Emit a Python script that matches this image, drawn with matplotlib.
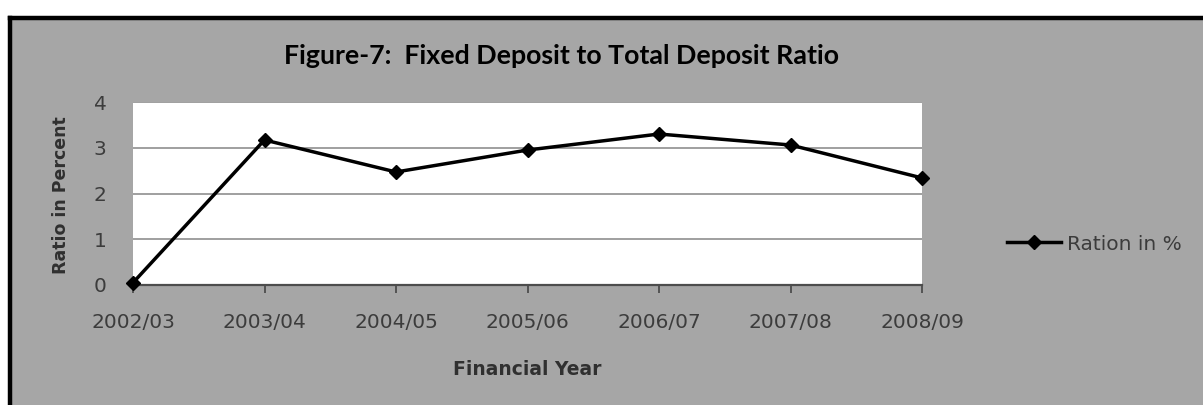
import matplotlib.pyplot as plt
from matplotlib.patches import Rectangle
from matplotlib.lines import Line2D

years = ["2002/03", "2003/04", "2004/05", "2005/06", "2006/07", "2007/08", "2008/09"]
ratio = [0.05, 3.17, 2.47, 2.95, 3.30, 3.06, 2.34]

plt.rcParams['font.family'] = ['DejaVu Sans']

W, H = 1203, 405
fig = plt.figure(figsize=(W / 100, H / 100), dpi=100, facecolor='white')

# grey chart background with a black frame on the top and left edges
fig.patches.append(Rectangle((10 / W, 0), 1, 1 - 18 / H, transform=fig.transFigure,
                             facecolor='#a6a6a6', edgecolor='none', zorder=-5))
fig.lines.append(Line2D([10 / W, 1], [1 - 18 / H, 1 - 18 / H], transform=fig.transFigure,
                        color='black', lw=3.2, zorder=-4))
fig.lines.append(Line2D([10 / W, 10 / W], [0, 1 - 18 / H], transform=fig.transFigure,
                        color='black', lw=3.2, zorder=-4))

ax = fig.add_axes([133 / W, 1 - 285 / H, (922 - 133) / W, (285 - 102) / H])
ax.set_facecolor('white')

x = list(range(len(years)))
ax.plot(x, ratio, color='black', lw=2.5, marker='D', markersize=7,
        label='Ration in %', clip_on=False, zorder=3)

ax.set_xlim(0, len(years) - 1)
ax.set_ylim(0, 4)
ax.set_yticks([0, 1, 2, 3, 4])
ax.set_xticks(x)
ax.set_xticklabels(years)
ax.yaxis.grid(True, color='#858585', lw=1.1)
ax.set_axisbelow(True)

for side in ['top', 'right', 'left']:
    ax.spines[side].set_visible(False)
ax.spines['bottom'].set_color('#4d4d4d')
ax.spines['bottom'].set_linewidth(1.6)

ax.tick_params(axis='x', direction='out', length=6, width=1.3, color='#4d4d4d',
               labelsize=14.5, labelcolor='#3c3c3c', pad=14)
ax.tick_params(axis='y', length=0, labelsize=14.5, labelcolor='#3c3c3c', pad=19)

ax.set_xlabel('Financial Year', fontsize=13.5, fontweight='bold', color='#303030')
ax.xaxis.label.set_va('center')
ax.xaxis.set_label_coords(0.5, -0.464)
ax.set_ylabel('Ratio in Percent', fontsize=12.5, fontweight='bold', color='#303030')
ax.yaxis.label.set_va('center')
ax.yaxis.set_label_coords(-0.091, 0.49)

fig.text(561 / W, 1 - 56 / H, 'Figure-7:  Fixed Deposit to Total Deposit Ratio',
         ha='center', va='center', fontsize=19.3, fontweight='bold', color='black',
         family=['Lato', 'DejaVu Sans'])

ax.legend(loc='center left', bbox_to_anchor=(1007 / W, 1 - 244 / H),
          bbox_transform=fig.transFigure, frameon=False, fontsize=14.5,
          handlelength=2.7, handletextpad=0.3, labelcolor='#3c3c3c',
          borderaxespad=0, borderpad=0)

fig.savefig('out.png', dpi=100, facecolor='white')
